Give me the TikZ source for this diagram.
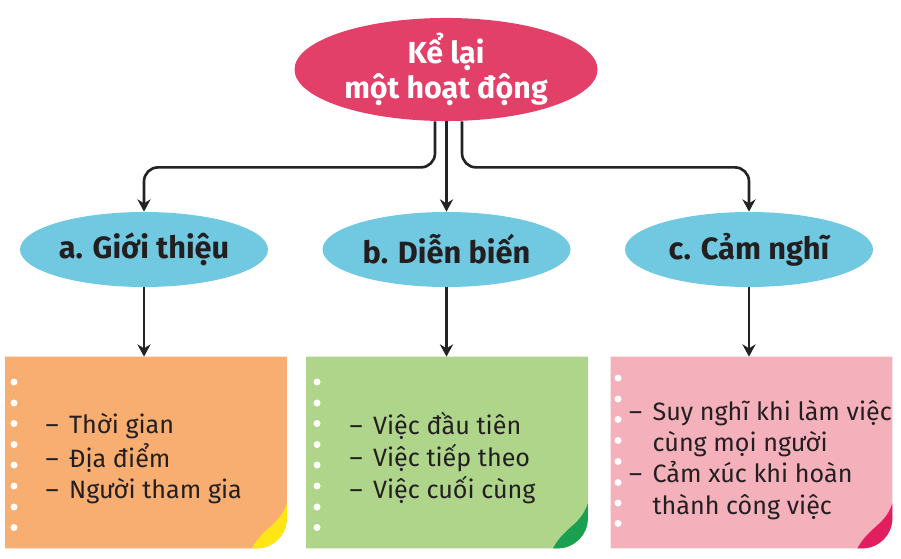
\documentclass[tikz,border=0pt]{standalone}
\usepackage{fontspec}
\setmainfont{Fira Sans}
\usepackage{tikz}
\usetikzlibrary{shapes.geometric,arrows.meta}

\definecolor{linecol}{RGB}{35,35,35}
\definecolor{textcol}{RGB}{35,31,32}
\definecolor{redoval}{RGB}{226,64,104}
\definecolor{blueoval}{RGB}{112,201,224}
\definecolor{orangenote}{RGB}{247,174,112}
\definecolor{greennote}{RGB}{175,213,139}
\definecolor{pinknote}{RGB}{245,177,187}
\definecolor{yellowcurl}{RGB}{255,230,20}
\definecolor{greencurl}{RGB}{26,160,80}
\definecolor{pinkcurl}{RGB}{226,30,94}

\begin{document}
\begin{tikzpicture}[
  link/.style={draw=linecol,line width=1.5pt,-{Stealth[length=7pt,width=7.5pt]}},
  topic/.style={ellipse,fill=blueoval,inner sep=0pt,minimum width=4.96cm,minimum height=1.5cm,
    font=\fontsize{17.5}{20}\selectfont\bfseries,text=textcol},
  note/.style={rectangle,inner sep=0pt,minimum width=5.62cm,minimum height=3.82cm},
  notetext/.style={anchor=west,inner sep=0pt,font=\fontsize{14.3}{17.8}\selectfont,text=textcol}
]
\useasboundingbox (0,0) rectangle (18.02,-11.18);

% Main oval
\node[ellipse,fill=redoval,inner sep=0pt,minimum width=6.06cm,minimum height=1.9cm,
  text=white,align=center,font=\fontsize{17.3}{20}\selectfont\bfseries]
  (kelai) at (8.92,-1.39) {Kể lại\\một hoạt động};

% Three parts
\node[topic] (gioithieu) at (2.88,-4.99) {a. Giới thiệu};
\node[topic] (dienbien) at (8.93,-4.99) {b. Diễn biến};
\node[topic] (camnghi) at (14.98,-4.99) {c. Cảm nghĩ};

\draw[link,rounded corners=8pt] ([xshift=-0.22cm]kelai.south) -- ++(0,-0.92) -| (gioithieu.north);
\draw[link] (kelai.south -| dienbien.north) -- (dienbien.north);
\draw[link,rounded corners=8pt] ([xshift=0.32cm]kelai.south) -- ++(0,-0.92) -| (camnghi.north);

% Note papers
\node[note] (notea) at (2.92,-9.05) {};
\node[note] (noteb) at (8.94,-9.05) {};
\node[note] (notec) at (15.03,-9.05) {};

\fill[orangenote] (notea.north west) -- (notea.north east) -- ([yshift=0.6cm]notea.south east)
  arc[start angle=0,end angle=-90,radius=0.6cm] -- (notea.south west) -- cycle;
\fill[greennote] (noteb.north west) -- (noteb.north east) -- ([yshift=0.6cm]noteb.south east)
  arc[start angle=0,end angle=-90,radius=0.6cm] -- (noteb.south west) -- cycle;
\fill[pinknote] (notec.north west) -- (notec.north east) -- ([yshift=0.6cm]notec.south east)
  arc[start angle=0,end angle=-90,radius=0.6cm] -- (notec.south west) -- cycle;

% Curled corners
\fill[yellowcurl] ([yshift=0.9cm]notea.south east) -- ([yshift=0.6cm]notea.south east)
  arc[start angle=0,end angle=-90,radius=0.6cm] -- ([xshift=-0.7cm]notea.south east)
  .. controls ([xshift=-0.45cm,yshift=0.45cm]notea.south east) and ([xshift=-0.15cm,yshift=0.45cm]notea.south east) .. cycle;
\fill[greencurl] ([yshift=0.9cm]noteb.south east) -- ([yshift=0.6cm]noteb.south east)
  arc[start angle=0,end angle=-90,radius=0.6cm] -- ([xshift=-0.7cm]noteb.south east)
  .. controls ([xshift=-0.45cm,yshift=0.45cm]noteb.south east) and ([xshift=-0.15cm,yshift=0.45cm]noteb.south east) .. cycle;
\fill[pinkcurl] ([yshift=0.9cm]notec.south east) -- ([yshift=0.6cm]notec.south east)
  arc[start angle=0,end angle=-90,radius=0.6cm] -- ([xshift=-0.7cm]notec.south east)
  .. controls ([xshift=-0.45cm,yshift=0.45cm]notec.south east) and ([xshift=-0.15cm,yshift=0.45cm]notec.south east) .. cycle;

% Holes along the left edge
\fill[white] (0.28,-7.64) circle (0.07) (0.28,-8.06) circle (0.07) (0.28,-8.47) circle (0.07)
  (0.28,-8.89) circle (0.07) (0.28,-9.30) circle (0.07) (0.28,-9.72) circle (0.07)
  (0.28,-10.14) circle (0.07) (0.28,-10.55) circle (0.07);
\fill[white] (6.34,-7.64) circle (0.07) (6.34,-8.06) circle (0.07) (6.34,-8.47) circle (0.07)
  (6.34,-8.89) circle (0.07) (6.34,-9.30) circle (0.07) (6.34,-9.72) circle (0.07)
  (6.34,-10.14) circle (0.07) (6.34,-10.55) circle (0.07);
\fill[white] (12.36,-7.56) circle (0.07) (12.36,-7.98) circle (0.07) (12.36,-8.39) circle (0.07)
  (12.36,-8.81) circle (0.07) (12.36,-9.23) circle (0.07) (12.36,-9.65) circle (0.07)
  (12.36,-10.06) circle (0.07) (12.36,-10.47) circle (0.07);

\draw[link] (gioithieu.south) -- (gioithieu.south |- notea.north);
\draw[link] (dienbien.south) -- (dienbien.south |- noteb.north);
\draw[link] (camnghi.south) -- (camnghi.south |- notec.north);

% Texts on the notes
\node[notetext] (texta) at ([xshift=0.8cm,yshift=-0.15cm]notea.west)
  {\begin{tabular}{@{}l@{\hspace{6pt}}l@{}}–& Thời gian\\ –& Địa điểm\\ –& Người tham gia\end{tabular}};
\node[notetext] (textb) at ([xshift=0.86cm,yshift=-0.15cm]noteb.west)
  {\begin{tabular}{@{}l@{\hspace{6pt}}l@{}}–& Việc đầu tiên\\ –& Việc tiếp theo\\ –& Việc cuối cùng\end{tabular}};
\node[notetext] (textc) at ([xshift=0.36cm,yshift=-0.17cm]notec.west)
  {\begin{tabular}{@{}l@{\hspace{6pt}}l@{}}–& Suy nghĩ khi làm việc\\ & cùng mọi người\\ –& Cảm xúc khi hoàn\\ & thành công việc\end{tabular}};

\end{tikzpicture}
\end{document}
